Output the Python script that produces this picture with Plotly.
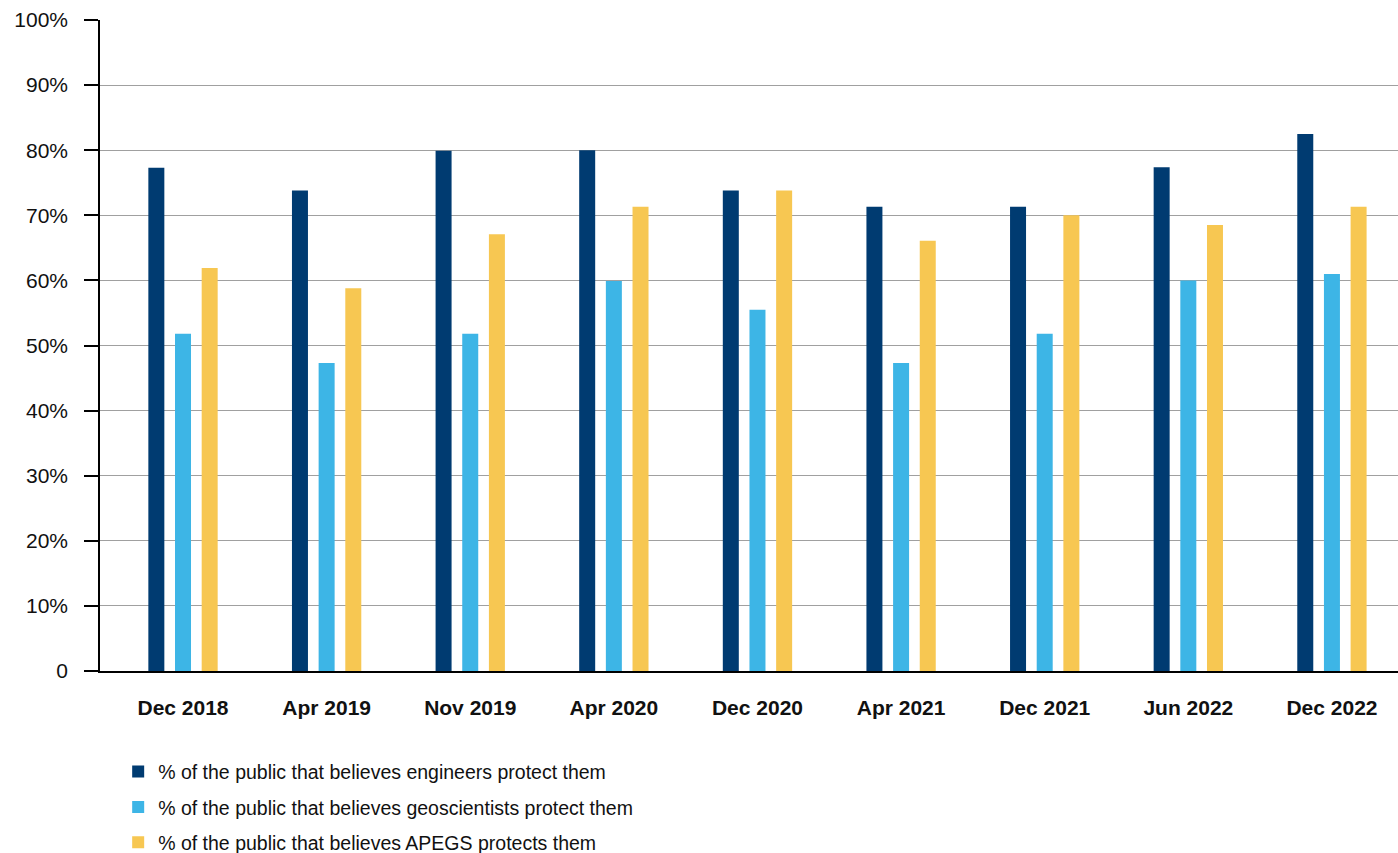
import plotly.graph_objects as go

categories = ["Dec 2018", "Apr 2019", "Nov 2019", "Apr 2020", "Dec 2020",
              "Apr 2021", "Dec 2021", "Jun 2022", "Dec 2022"]
engineers = [77.3, 73.8, 79.9, 80.0, 73.8, 71.3, 71.3, 77.4, 82.5]
geoscientists = [51.8, 47.3, 51.8, 59.9, 55.5, 47.3, 51.8, 60.0, 61.0]
apegs = [61.9, 58.8, 67.1, 71.3, 73.8, 66.1, 70.0, 68.5, 71.3]

series_names = [
    "% of the public that believes engineers protect them",
    "% of the public that believes geoscientists protect them",
    "% of the public that believes APEGS protects them",
]
colors = ["#003B71", "#3DB5E6", "#F7C752"]

y_tickvals = [0, 10, 20, 30, 40, 50, 60, 70, 80, 90, 100]
y_ticktext = ["0", "10%", "20%", "30%", "40%", "50%", "60%", "70%", "80%", "90%", "100%"]

fig = go.Figure()
for name, vals, col in zip(series_names, [engineers, geoscientists, apegs], colors):
    fig.add_trace(go.Bar(
        x=categories, y=vals, name=name, legendgroup=name,
        marker=dict(color=col, line=dict(width=0)),
    ))

fig.update_layout(
    width=1398, height=853,
    margin=dict(l=100, r=0, t=20, b=182, autoexpand=False),
    paper_bgcolor="white", plot_bgcolor="white",
    barmode="group", bargap=0.443, bargroupgap=0.4,
    font=dict(family="Liberation Sans, Arial, sans-serif", color="#111111"),
    showlegend=True,
    legend=dict(
        x=0.0140, xanchor="left", y=-0.125, yanchor="top",
        orientation="v", traceorder="grouped", tracegroupgap=7,
        font=dict(size=19.5, color="#111111"),
        bgcolor="rgba(0,0,0,0)", borderwidth=0,
    ),
)

fig.update_xaxes(
    type="category", range=[-0.578, 8.46], automargin=False,
    showline=True, linecolor="black", linewidth=1.5,
    showgrid=False, zeroline=False,
    ticks="outside", ticklen=17, tickcolor="rgba(0,0,0,0)",
    tickfont=dict(size=21, family="Liberation Sans, Arial, sans-serif", color="#111111"),
    tickprefix="<b>", ticksuffix="</b>",
)
fig.update_yaxes(
    range=[0, 100], tickvals=y_tickvals, ticktext=y_ticktext, automargin=False,
    showline=True, linecolor="black", linewidth=1.5,
    showgrid=True, gridcolor="#a0a0a0", gridwidth=1,
    zeroline=False,
    ticks="outside", ticklen=14, tickcolor="black", tickwidth=1.5,
    ticklabelstandoff=12,
    tickfont=dict(size=21, color="#111111"),
)

fig.write_html(
    "out.html",
    config={"displayModeBar": False},
    post_script="document.body.style.margin='0px';document.body.style.overflow='hidden';",
)
